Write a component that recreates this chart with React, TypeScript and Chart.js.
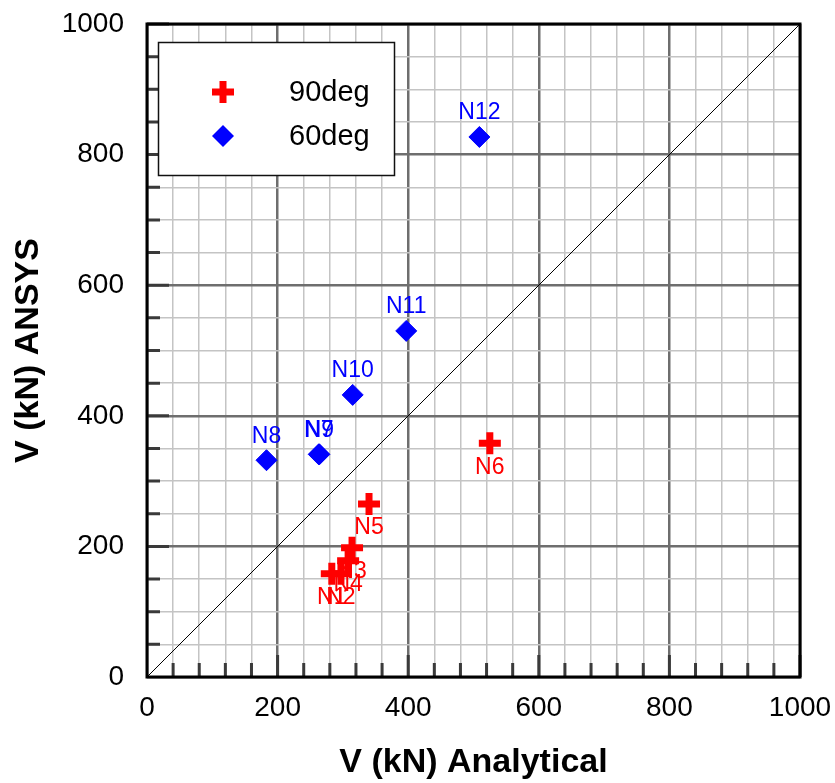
import React, { useEffect, useRef } from 'react';
import { Chart, registerables } from 'chart.js';

Chart.register(...registerables);

// ---- data ----
const names90 = ['N1', 'N2', 'N3', 'N4', 'N5', 'N6'];
const analytical90 = [283, 297, 314, 308, 340, 525];
const ansys90 = [158, 158, 198, 178, 265, 358];

const names60 = ['N7', 'N8', 'N9', 'N10', 'N11', 'N12'];
const analytical60 = [263, 183, 264, 315, 397, 509];
const ansys60 = [341, 332, 341, 432, 530, 827];

const diagX = [0, 1000];
const diagY = [0, 1000];

const seriesLabels = ['90deg', '60deg'];
const xTitle = 'V (kN) Analytical';
const yTitle = 'V (kN) ANSYS';

const FONT = "'Liberation Sans', Arial, Helvetica, sans-serif";

const isMajor = (v: number) => Math.abs(v % 200) < 1e-6;

const decorPlugin = {
  id: 'decor',
  beforeDatasetsDraw(chart: any) {
    const { ctx, chartArea, scales } = chart;
    const { left, right, top, bottom } = chartArea;
    const xs = scales.x;
    const ys = scales.y;
    ctx.save();
    ctx.strokeStyle = '#3a3a3a';
    ctx.lineWidth = 3;
    ctx.beginPath();
    for (let v = 40; v <= 1000; v += 40) {
      const px = xs.getPixelForValue(v);
      const len = isMajor(v) ? 22 : 14;
      ctx.moveTo(px, bottom);
      ctx.lineTo(px, bottom - len);
    }
    for (let v = 50; v <= 1000; v += 50) {
      const py = ys.getPixelForValue(v);
      const len = isMajor(v) ? 22 : 13;
      ctx.moveTo(left, py);
      ctx.lineTo(left + len, py);
    }
    ctx.stroke();
    ctx.strokeStyle = '#000';
    ctx.lineWidth = 3;
    ctx.strokeRect(left, top, right - left, bottom - top);
    ctx.restore();
  },
  afterDatasetsDraw(chart: any) {
    const { ctx } = chart;
    ctx.save();
    ctx.font = `23px ${FONT}`;
    ctx.textAlign = 'center';
    ctx.textBaseline = 'middle';
    chart.data.datasets.forEach((ds: any, i: number) => {
      if (!ds.names) return;
      const meta = chart.getDatasetMeta(i);
      ctx.fillStyle = ds.labelColor;
      meta.data.forEach((pt: any, j: number) => {
        ctx.fillText(ds.names[j], pt.x, pt.y + ds.labelOffset);
      });
    });

    // legend box
    const bx = 158, by = 42, bw = 236, bh = 133;
    ctx.fillStyle = '#fff';
    ctx.fillRect(bx, by, bw, bh);
    ctx.strokeStyle = '#111';
    ctx.lineWidth = 1.5;
    ctx.strokeRect(bx + 0.5, by + 0.5, bw, bh);

    // cross symbol
    const cx = 223, cy1 = 92, cy2 = 136;
    ctx.strokeStyle = 'red';
    ctx.lineWidth = 7;
    ctx.beginPath();
    ctx.moveTo(cx - 11, cy1);
    ctx.lineTo(cx + 11, cy1);
    ctx.moveTo(cx, cy1 - 11);
    ctx.lineTo(cx, cy1 + 11);
    ctx.stroke();
    // diamond symbol
    ctx.fillStyle = 'blue';
    ctx.beginPath();
    ctx.moveTo(cx, cy2 - 11);
    ctx.lineTo(cx + 11, cy2);
    ctx.lineTo(cx, cy2 + 11);
    ctx.lineTo(cx - 11, cy2);
    ctx.closePath();
    ctx.fill();

    ctx.fillStyle = '#000';
    ctx.font = `29px ${FONT}`;
    ctx.textAlign = 'left';
    ctx.fillText(seriesLabels[0], 289, cy1 + 1);
    ctx.fillText(seriesLabels[1], 289, cy2 + 1);
    ctx.restore();
  },
};

export default function App() {
  const ref = useRef<HTMLCanvasElement>(null);

  useEffect(() => {
    if (!ref.current) return;
    const gridColor = (c: any) => (c.tick && isMajor(c.tick.value) ? '#6e6e6e' : '#c4c4c4');
    const gridWidth = (c: any) => (c.tick && isMajor(c.tick.value) ? 2.5 : 1.5);

    const chart = new Chart(ref.current, {
      type: 'scatter',
      data: {
        datasets: [
          {
            label: seriesLabels[0],
            data: analytical90.map((v, i) => ({ x: v, y: ansys90[i] })),
            pointStyle: 'cross',
            pointRadius: 11,
            pointBorderWidth: 7,
            borderColor: '#ff0000',
            backgroundColor: '#ff0000',
            names: names90,
            labelColor: '#ff0000',
            labelOffset: 24,
          } as any,
          {
            label: seriesLabels[1],
            data: analytical60.map((v, i) => ({ x: v, y: ansys60[i] })),
            pointStyle: 'rectRot',
            pointRadius: 10.5,
            pointBorderWidth: 1,
            borderColor: '#0000ff',
            backgroundColor: '#0000ff',
            names: names60,
            labelColor: '#0000ff',
            labelOffset: -24,
          } as any,
          {
            label: 'diag',
            data: diagX.map((v, i) => ({ x: v, y: diagY[i] })),
            showLine: true,
            pointRadius: 0,
            borderColor: '#000',
            borderWidth: 1,
          } as any,
        ],
      },
      options: {
        responsive: false,
        animation: false,
        layout: { padding: { top: 24, right: 35, bottom: 0, left: 0 } },
        plugins: {
          legend: { display: false },
          tooltip: { enabled: false },
        },
        scales: {
          x: {
            type: 'linear',
            min: 0,
            max: 1000,
            border: { display: false },
            grid: { color: gridColor, lineWidth: gridWidth, drawTicks: false },
            ticks: {
              stepSize: 40,
              autoSkip: false,
              maxRotation: 0,
              padding: 14,
              color: '#000',
              font: { family: FONT, size: 28 },
              callback: (v: any) => (isMajor(Number(v)) ? String(v) : ''),
            },
            title: {
              display: true,
              text: xTitle,
              color: '#000',
              font: { family: FONT, size: 34, weight: 'bold' },
              padding: { top: 0, bottom: 0 },
            },
            afterFit: (s: any) => {
              s.height = 106;
              s.paddingLeft = 0;
              s.paddingRight = 0;
            },
          },
          y: {
            type: 'linear',
            min: 0,
            max: 1000,
            border: { display: false },
            grid: { color: gridColor, lineWidth: gridWidth, drawTicks: false },
            ticks: {
              stepSize: 50,
              autoSkip: false,
              padding: 23,
              color: '#000',
              font: { family: FONT, size: 28 },
              callback: (v: any) => (isMajor(Number(v)) ? String(v) : ''),
            },
            title: {
              display: true,
              text: yTitle,
              color: '#000',
              font: { family: FONT, size: 34, weight: 'bold' },
              padding: { top: 8, bottom: 0 },
            },
            afterFit: (s: any) => {
              s.width = 147;
              s.paddingTop = 0;
              s.paddingBottom = 0;
            },
          },
        },
      } as any,
      plugins: [decorPlugin],
    });
    return () => chart.destroy();
  }, []);

  return (
    <div style={{ position: 'absolute', left: 0, top: 0, width: 835, height: 783, background: '#fff' }}>
      <canvas ref={ref} width={835} height={783} style={{ display: 'block', width: 835, height: 783 }} />
    </div>
  );
}
